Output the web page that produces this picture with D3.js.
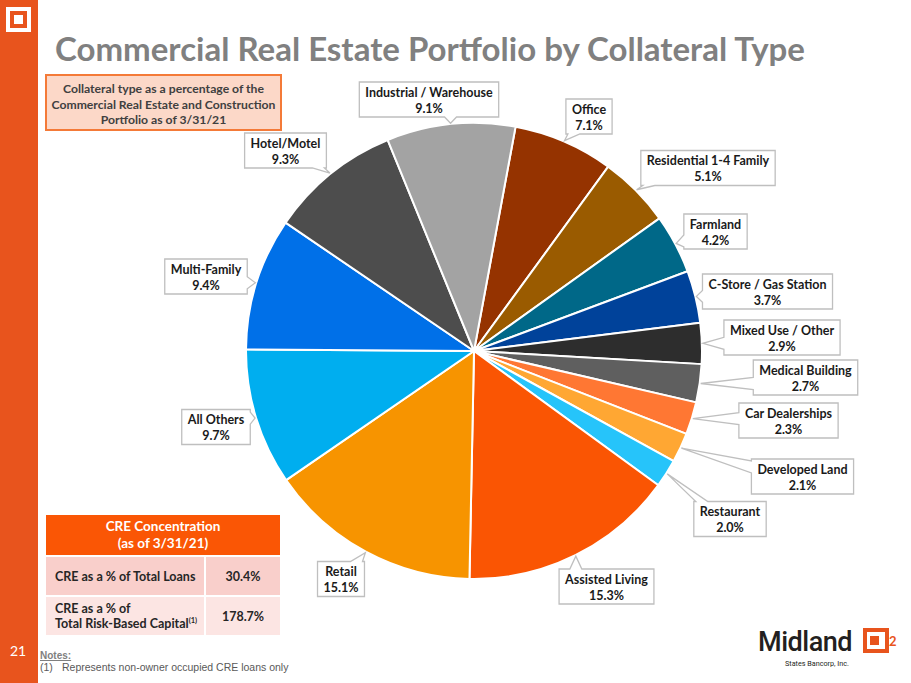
<!DOCTYPE html>
<html>
<head>
<meta charset="utf-8">
<script src="https://cdn.jsdelivr.net/npm/d3@7"></script>
<style>
  html, body { margin: 0; padding: 0; background: #fff; }
  svg { display: block; font-family: Lato, "Open Sans", sans-serif; }
</style>
</head>
<body>
<div id="chart"></div>
<script>
// slices, clockwise from the Office slice
const categories = [
  "Office", "Residential 1-4 Family", "Farmland", "C-Store / Gas Station",
  "Mixed Use / Other", "Medical Building", "Car Dealerships", "Developed Land",
  "Restaurant", "Assisted Living", "Retail", "All Others", "Multi-Family",
  "Hotel/Motel", "Industrial / Warehouse"
];
const shares = [7.1, 5.1, 4.2, 3.7, 2.9, 2.7, 2.3, 2.1, 2.0, 15.3, 15.1, 9.7, 9.4, 9.3, 9.1];
const sliceColors = [
  "#953300", "#9a5b00", "#006888", "#00429a", "#2d2d2d", "#5f5f5f", "#ff7733", "#ffa733",
  "#26c4fa", "#fa5503", "#f79400", "#00aeef", "#0070e8", "#4d4d4d", "#a3a3a3"
];

// table values
const tableRows = [
  { label: ["CRE as a % of Total Loans"], value: "30.4%" },
  { label: ["CRE as a % of", "Total Risk-Based Capital"], value: "178.7%", note: "(1)" }
];
const subtitleLines = [
  "Collateral type as a percentage of the",
  "Commercial Real Estate and Construction",
  "Portfolio as of 3/31/21"
];

// where the data label boxes sit (box centres, like manually placed labels)
const labelCenters = [
  [589, 116.5], [708, 168], [715.5, 231.5], [767.5, 291.5], [782, 337.5],
  [805.5, 377.5], [788.5, 420.5], [802.5, 476.5], [730, 519], [606.5, 586.5],
  [341, 579], [216, 427], [206, 276.5], [285.5, 150.5], [429, 99.5]
];

const width = 911, height = 683;
const cx = 474, cy = 351, radius = 228;
const startDeg = 10.5;
const orange = "#e8541d";

const svg = d3.select("#chart").append("svg")
  .attr("width", width).attr("height", height)
  .attr("viewBox", [0, 0, width, height]);

// side bar and small logo
svg.append("rect").attr("x", 0).attr("y", 0).attr("width", 38).attr("height", height).attr("fill", orange);
svg.append("rect").attr("x", 6).attr("y", 7).attr("width", 25).attr("height", 25).attr("fill", "#fff");
svg.append("rect").attr("x", 10).attr("y", 11).attr("width", 17).attr("height", 17).attr("fill", orange);
svg.append("rect").attr("x", 14).attr("y", 15).attr("width", 9).attr("height", 9).attr("fill", "#fff");
svg.append("text").attr("x", 18).attr("y", 656).attr("text-anchor", "middle")
  .attr("fill", "#fff").attr("font-size", 14).text("21");

// fit a text element to a given width by adjusting font-size
function fitWidth(sel, target) {
  const fs = parseFloat(sel.attr("font-size"));
  const w = sel.node().getComputedTextLength();
  sel.attr("font-size", fs * target / w);
}

// title
const title = svg.append("text").attr("x", 55).attr("y", 61)
  .attr("font-size", 34).attr("font-weight", 700).attr("fill", "#808080")
  .text("Commercial Real Estate Portfolio by Collateral Type");
fitWidth(title, 750);

// subtitle box
svg.append("rect").attr("x", 46).attr("y", 75).attr("width", 235).attr("height", 55)
  .attr("fill", "#fcd8c8").attr("stroke", "#f47a38").attr("stroke-width", 2);
svg.append("g").selectAll("text").data(subtitleLines).join("text")
  .attr("x", 163.5).attr("y", (d, i) => 93 + i * 15.5)
  .attr("text-anchor", "middle").attr("font-size", 12.2).attr("font-weight", 700)
  .attr("fill", "#404040").text(d => d);

// pie
const pie = d3.pie().sort(null).value(d => d)
  .startAngle(startDeg * Math.PI / 180)
  .endAngle(startDeg * Math.PI / 180 + 2 * Math.PI);
const arcs = pie(shares);
const arc = d3.arc().innerRadius(0).outerRadius(radius);

const pieG = svg.append("g").attr("transform", `translate(${cx},${cy})`);
pieG.selectAll("path").data(arcs).join("path")
  .attr("d", arc)
  .attr("fill", (d, i) => sliceColors[i])
  .attr("stroke", "#fff").attr("stroke-width", 2).attr("stroke-linejoin", "round");

// callout labels
function calloutPath(x0, y0, x1, y1, tx, ty) {
  const ox = Math.max(x0 - tx, tx - x1, 0);
  const oy = Math.max(y0 - ty, ty - y1, 0);
  const half = 6;
  const clamp = (v, a, b) => Math.max(a, Math.min(b, v));
  let side;
  if (oy > ox) side = ty < y0 ? "top" : "bottom";
  else side = tx < x0 ? "left" : "right";
  let p = `M${x0},${y0}`;
  if (side === "top") {
    const c = clamp(tx, x0 + half + 2, x1 - half - 2);
    p += `L${c - half},${y0}L${tx},${ty}L${c + half},${y0}`;
  }
  p += `L${x1},${y0}`;
  if (side === "right") {
    const c = clamp(ty, y0 + half + 2, y1 - half - 2);
    p += `L${x1},${c - half}L${tx},${ty}L${x1},${c + half}`;
  }
  p += `L${x1},${y1}`;
  if (side === "bottom") {
    const c = clamp(tx, x0 + half + 2, x1 - half - 2);
    p += `L${c + half},${y1}L${tx},${ty}L${c - half},${y1}`;
  }
  p += `L${x0},${y1}`;
  if (side === "left") {
    const c = clamp(ty, y0 + half + 2, y1 - half - 2);
    p += `L${x0},${c + half}L${tx},${ty}L${x0},${c - half}`;
  }
  return p + "Z";
}

const labelG = svg.append("g");
arcs.forEach((d, i) => {
  const g = labelG.append("g");
  const [bx, by] = labelCenters[i];
  const t1 = g.append("text").attr("x", bx).attr("y", by - 3)
    .attr("text-anchor", "middle").attr("font-size", 12.5).attr("font-weight", 700)
    .attr("fill", "#1a1a1a").text(categories[i]);
  const t2 = g.append("text").attr("x", bx).attr("y", by + 13)
    .attr("text-anchor", "middle").attr("font-size", 12.5).attr("font-weight", 700)
    .attr("fill", "#1a1a1a").text(d3.format(".1f")(shares[i]) + "%");
  const w = Math.max(t1.node().getComputedTextLength(), t2.node().getComputedTextLength()) + 12;
  const h = 35;
  const mid = (d.startAngle + d.endAngle) / 2;
  const tx = cx + (radius + 1) * Math.sin(mid);
  const ty = cy - (radius + 1) * Math.cos(mid);
  g.insert("path", "text")
    .attr("d", calloutPath(bx - w / 2, by - h / 2, bx + w / 2, by + h / 2, tx, ty))
    .attr("fill", "#fff").attr("stroke", "#bfbfbf").attr("stroke-width", 1.3);
});

// CRE concentration table
const tx0 = 46, tx1 = 280, tSplit = 204;
svg.append("rect").attr("x", tx0).attr("y", 515).attr("width", tx1 - tx0).attr("height", 40).attr("fill", "#fa5605");
svg.append("text").attr("x", (tx0 + tx1) / 2).attr("y", 531).attr("text-anchor", "middle")
  .attr("font-size", 13.5).attr("font-weight", 700).attr("fill", "#fff").text("CRE Concentration");
svg.append("text").attr("x", (tx0 + tx1) / 2).attr("y", 548).attr("text-anchor", "middle")
  .attr("font-size", 13.5).attr("font-weight", 700).attr("fill", "#fff").text("(as of 3/31/21)");

const rowTops = [557, 597], rowH = 38, rowFills = ["#f9cfcb", "#fce5e3"];
tableRows.forEach((r, i) => {
  const y = rowTops[i];
  svg.append("rect").attr("x", tx0).attr("y", y).attr("width", tSplit - tx0).attr("height", rowH).attr("fill", rowFills[i]);
  svg.append("rect").attr("x", tSplit + 2).attr("y", y).attr("width", tx1 - tSplit - 2).attr("height", rowH).attr("fill", rowFills[i]);
  const lines = r.label;
  lines.forEach((l, j) => {
    const t = svg.append("text").attr("x", 55)
      .attr("y", y + rowH / 2 + 4.5 + (j - (lines.length - 1) / 2) * 15)
      .attr("font-size", 12.5).attr("font-weight", 700).attr("fill", "#262626").text(l);
    if (r.note && j === lines.length - 1) {
      t.append("tspan").attr("font-size", 7.5).attr("dy", -5).text(r.note);
    }
  });
  svg.append("text").attr("x", (tSplit + 2 + tx1) / 2).attr("y", y + rowH / 2 + 4.5)
    .attr("text-anchor", "middle").attr("font-size", 12.5).attr("font-weight", 700)
    .attr("fill", "#262626").text(r.value);
});

// notes
const noteFont = "'Liberation Sans', Arial, sans-serif";
svg.append("text").attr("x", 40).attr("y", 659).attr("font-family", noteFont)
  .attr("font-size", 10).attr("font-weight", 700).attr("fill", "#7f7f7f")
  .attr("text-decoration", "underline").text("Notes:");
svg.append("text").attr("x", 40).attr("y", 671).attr("font-family", noteFont)
  .attr("font-size", 10.5).attr("fill", "#595959").text("(1)");
svg.append("text").attr("x", 62).attr("y", 671).attr("font-family", noteFont)
  .attr("font-size", 10.5).attr("fill", "#595959")
  .text("Represents non-owner occupied CRE loans only");

// Midland logo
const midText = svg.append("text").attr("x", 758).attr("y", 651)
  .attr("font-family", "Roboto, sans-serif").attr("font-size", 26).attr("font-weight", 500)
  .attr("fill", "#231f20").attr("letter-spacing", -0.5).text("Midland");
fitWidth(midText, 94);
const sub = svg.append("text").attr("x", 785).attr("y", 666)
  .attr("font-family", "Roboto, sans-serif").attr("font-size", 7).attr("fill", "#231f20")
  .text("States Bancorp, Inc.");
fitWidth(sub, 64);
svg.append("rect").attr("x", 863).attr("y", 628).attr("width", 26).attr("height", 25).attr("fill", orange);
svg.append("rect").attr("x", 867).attr("y", 632).attr("width", 18).attr("height", 17).attr("fill", "#fff");
svg.append("rect").attr("x", 870).attr("y", 636).attr("width", 9).attr("height", 9).attr("fill", orange);
svg.append("text").attr("x", 889).attr("y", 646).attr("font-size", 13).attr("font-weight", 700)
  .attr("fill", orange).text("2");
</script>
</body>
</html>
